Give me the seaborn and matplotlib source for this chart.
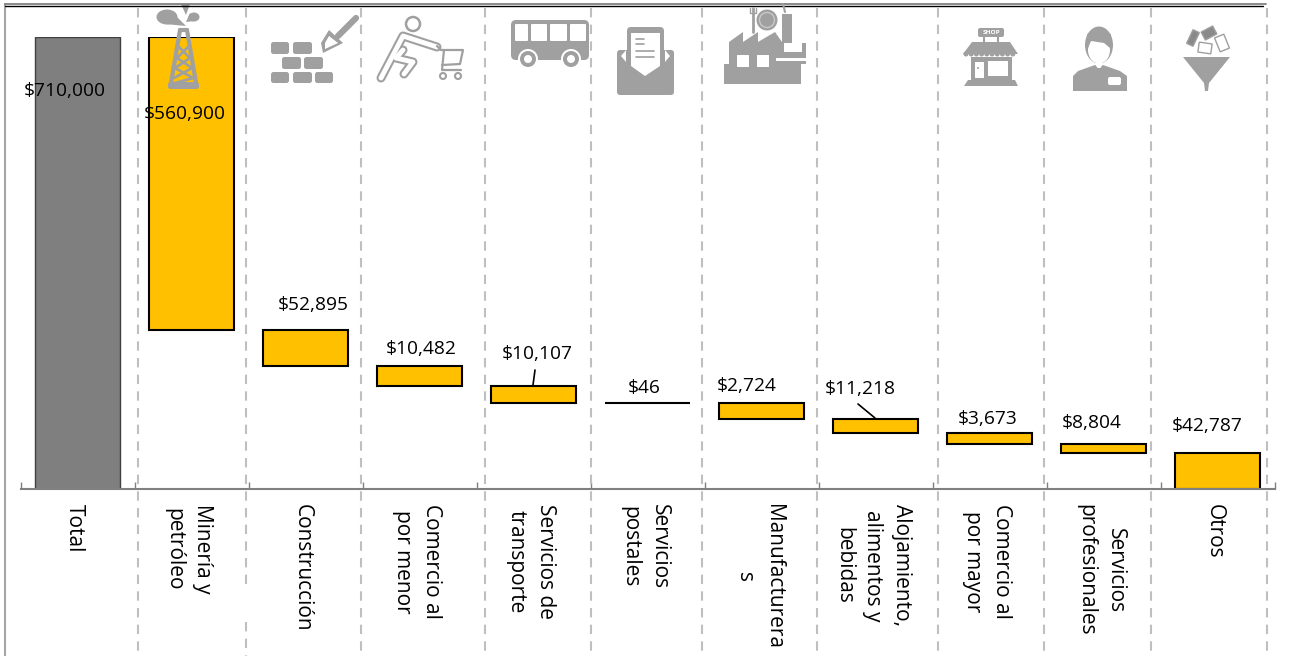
import numpy as np
import matplotlib
matplotlib.use("Agg")
import matplotlib.pyplot as plt
import seaborn as sns
from matplotlib.patches import Circle, Ellipse, FancyBboxPatch, Polygon, Rectangle
from matplotlib.transforms import Affine2D, ScaledTranslation

categories = ["Total", "Minería y\npetróleo", "Construcción", "Comercio al\npor menor",
              "Servicios de\ntransporte", "Servicios\npostales", "Manufacturera\ns",
              "Alojamiento,\nalimentos y\nbebidas", "Comercio al\npor mayor",
              "Servicios\nprofesionales", "Otros"]
# bar lengths as drawn in the picture (they do not follow the printed labels)
heights = [710000, 460000, 56500, 31500, 26700, 300, 25000, 22000, 17300, 14100, 56600]
value_labels = ["$710,000", "$560,900", "$52,895", "$10,482", "$10,107", "$46",
                "$2,724", "$11,218", "$3,673", "$8,804", "$42,787"]
# label offset from the top centre of each bar, in pixels
label_dx = [-12.5, -6.5, 7.5, 1.5, 3.5, -3.5, -14.5, -15.5, -1.5, -11.5, -10.5]
label_dy = [-54, -77, 25, 17, 32, 15, 17, 30, 14, 21, 27]

GOLD = "#FFC000"
DARK = "#7F7F7F"
ICON = "#A0A0A0"
W, H = 1310, 656

heights = np.array(heights, dtype=float)
tops = np.r_[heights[0], heights[0], heights[0] - np.cumsum(heights[1:-1])]
bottoms = tops - heights
positions = np.arange(len(heights))

sns.set_style("white")
plt.rcParams["font.family"] = ["Open Sans", "DejaVu Sans"]

fig = plt.figure(figsize=(W / 100, H / 100), dpi=100, facecolor="white")
ax = fig.add_axes([20.5 / W, (H - 489) / H, 1254 / W, 452 / H])

sns.barplot(x=positions, y=heights, bottom=bottoms, color=GOLD, saturation=1, width=0.745,
            edgecolor="black", linewidth=1.5, ax=ax)
ax.patches[0].set_facecolor(DARK)
ax.patches[0].set_edgecolor("#404040")
ax.patches[0].set_linewidth(1)

ax.set_xlim(-0.5, len(heights) - 0.5)
ax.set_ylim(0, heights[0])
ax.set_xlabel("")
ax.set_ylabel("")
ax.set_yticks([])
ax.set_xticks(positions)
ax.set_xticklabels(categories, rotation=270, fontsize=15, va="top", ha="center",
                   ma="center", linespacing=1.5, color="black")
ax.set_xticks(np.r_[-0.5, positions + 0.5], minor=True)
ax.tick_params(axis="x", which="major", length=0, pad=11)
ax.tick_params(axis="x", which="minor", bottom=True, direction="in", length=5, width=1, color="#808080")
shift = ScaledTranslation(-3 / 100, 0, fig.dpi_scale_trans)
for lab in ax.get_xticklabels():
    lab.set_transform(lab.get_transform() + shift)
sns.despine(ax=ax, left=True)
ax.spines["bottom"].set_color("#808080")
ax.spines["bottom"].set_linewidth(1.5)

for i, txt in enumerate(value_labels):
    ax.annotate(txt, xy=(i, tops[i]), xytext=(label_dx[i], label_dy[i]), textcoords="offset pixels",
                ha="center", va="center", fontsize=13.8, color="black")

# ---- overlay in pixel coords: frame, dashed separators, leader lines, icons ----
ov = fig.add_axes([0, 0, 1, 1], facecolor="none")
ov.set_xlim(0, W)
ov.set_ylim(H, 0)
ov.axis("off")

ov.plot([5, 5], [4, H], color="#A6A6A6", lw=1.5)
ov.plot([5, 1266], [3.5, 3.5], color="#808080", lw=1.3)
ov.plot([5, 1263], [6, 6], color="black", lw=1)

for x in [138, 361, 485, 591, 702, 817, 938, 1044, 1151, 1267]:
    ov.plot([x, x], [8, H], color="#BFBFBF", lw=1.5, ls=(0, (4.5, 3.5)))
ov.plot([246, 246], [8, 585], color="#BFBFBF", lw=1.5, ls=(0, (4.5, 3.5)))
ov.plot([246, 246], [622, H], color="#BFBFBF", lw=1.5, ls=(0, (4.5, 3.5)))

ov.plot([535, 533], [370, 385], color="black", lw=1.2)
ov.plot([858, 875], [404, 418], color="black", lw=1.2)


def box(x0, y0, x1, y1, color=ICON, r=2.5):
    ov.add_patch(FancyBboxPatch((x0 + r, y0 + r), x1 - x0 - 2 * r, y1 - y0 - 2 * r,
                                boxstyle=f"round,pad={r},rounding_size={r}", fc=color, ec="none"))


def poly(pts, color=ICON):
    ov.add_patch(Polygon(pts, closed=True, fc=color, ec="none"))


def line(xs, ys, lw=2.5, color=ICON):
    ov.plot(xs, ys, color=color, lw=lw, solid_capstyle="round", solid_joinstyle="round")


def disc(x, y, r, color=ICON):
    ov.add_patch(Circle((x, y), r, fc=color, ec="none"))


# derrick
ov.add_patch(Ellipse((167, 17), 21, 15, fc=ICON, ec="none"))
poly([(170, 10), (186, 26), (165, 24)])
poly([(181, 4), (190, 4), (186, 15)])
ov.add_patch(Ellipse((194, 17), 11, 9, fc=ICON, ec="none"))
poly([(190, 13), (186, 22), (195, 21)])
line([180, 171], [30, 83], lw=3)
line([187, 196], [30, 83], lw=3)
line([180, 187], [30, 30], lw=3)
line([178, 190, 175, 193, 172], [46, 58, 68, 78, 84], lw=2)
line([189, 177, 192, 174], [46, 58, 68, 78], lw=2)
box(168, 82, 199, 89)

# bricks and trowel
for y0, y1, xs in [(42, 54, [(271, 289), (293, 312)]),
                   (57, 69, [(282, 301), (304, 323)]),
                   (72, 83, [(271, 289), (293, 312), (315, 333)])]:
    for x0, x1 in xs:
        box(x0, y0, x1, y1)
line([338, 356], [36, 18], lw=4.5)
poly([(329, 30), (343, 43), (323, 53), (321, 43)])
poly([(329, 36), (338, 43), (325, 49), (325, 43)], "white")

# shopper
ov.add_patch(Circle((413, 24), 7, fc="white", ec=ICON, lw=1.8))
for lw, col in [(6.5, ICON), (3.5, "white")]:
    line([381, 403, 437], [78, 36, 47], lw=lw, color=col)
    line([403, 396, 413, 404], [50, 58, 62, 74], lw=lw, color=col)
line([437, 441, 463, 460, 442], [46, 50, 50, 64, 65], lw=1.6)
line([444, 442, 461], [50, 70, 70], lw=1.6)
ov.add_patch(Circle((443, 76), 3, fc="white", ec=ICON, lw=1.5))
ov.add_patch(Circle((458, 76), 3, fc="white", ec=ICON, lw=1.5))

# bus
box(511, 20, 589, 60, r=5)
for x0, x1 in [(515, 528), (531, 547), (550, 567), (570, 586)]:
    box(x0, 24, x1, 41, "white", r=1)
for x in [528, 571]:
    disc(x, 59, 10, "white")
    disc(x, 59, 8)
    disc(x, 59, 4, "white")

# envelope
box(617, 50, 674, 95, r=3)
box(627, 27, 664, 55, r=4)
poly([(631, 33), (660, 33), (660, 66), (645, 76), (631, 66)], "white")
poly([(621, 56), (626, 50), (626, 62)], "white")
poly([(670, 56), (665, 50), (665, 62)], "white")
for x1, y in [(644, 39), (644, 44), (654, 51), (654, 57)]:
    line([636, x1], [y, y], lw=1.2)

# factory with plate and truck
poly([(724, 64), (729, 64), (729, 42), (743, 32), (743, 42), (758, 32), (758, 42), (775, 32),
      (782, 42), (782, 14), (792, 14), (792, 43), (806, 43), (806, 64), (801, 64), (801, 84), (724, 84)])
box(737, 55, 749, 67, "white", r=0.5)
box(757, 55, 769, 67, "white", r=0.5)
box(776, 58, 806, 61, "white", r=0.5)
box(784, 43, 802, 52, "white", r=0.5)
disc(767, 20, 10.5)
ov.add_patch(Circle((767, 20), 7.5, fc=ICON, ec="#C8C8C8", lw=1))
line([753, 753], [8, 32], lw=2)
line([750, 750, 756, 756], [8, 13, 13, 8], lw=1)
line([785, 783], [12, 4], lw=1.5)

# shop
box(978, 28, 1004, 37, r=2)
ov.text(991, 32.7, "SHOP", fontsize=4.6, color="white", ha="center", va="center", fontweight="bold")
line([984, 984], [37, 42], lw=1.5)
line([998, 998], [37, 42], lw=1.5)
poly([(972, 42), (1010, 42), (1018, 54), (963, 54)])
for x in np.arange(966, 1018, 5.2):
    disc(x, 54, 2.5)
poly([(971, 57), (1012, 57), (1012, 80), (971, 80)])
box(975, 62, 984, 78, "white", r=0.4)
box(988, 61, 1008, 76, "white", r=0.4)
disc(978, 68, 1)
poly([(968, 80), (1015, 80), (1018, 86), (964, 86)])

# person
poly([(1073, 91), (1073, 76), (1078, 71), (1095, 65), (1103, 65), (1120, 71), (1127, 76), (1127, 91)])
ov.add_patch(Ellipse((1099, 45), 28, 37, fc=ICON, ec="none"))
ov.add_patch(Ellipse((1099, 50), 22, 27, fc="white", ec="none"))
poly([(1088, 48), (1091, 41), (1104, 43), (1110, 48), (1111, 34), (1087, 34)])
poly([(1094, 63), (1104, 63), (1099, 70)], "white")
poly([(1097, 68), (1101, 68), (1102, 76), (1096, 76)])
box(1108, 77, 1121, 85, "white", r=2)

# funnel with papers
poly([(1183, 57), (1230, 57), (1209, 83), (1208, 91), (1205, 91), (1204, 83)])
for cx, cy, w, h, ang in [(1193, 38, 7, 15, 25), (1209, 33, 13, 9, -28),
                          (1222, 43, 10, 15, -22), (1205, 48, 13, 10, 8)]:
    rect = Rectangle((cx - w / 2, cy - h / 2), w, h, fc="#8A8A8A" if w < 8 or ang == -28 else "white",
                     ec=ICON, lw=1,
                     transform=Affine2D().rotate_deg_around(cx, cy, ang) + ov.transData)
    ov.add_patch(rect)

fig.savefig("out.png", dpi=100)
